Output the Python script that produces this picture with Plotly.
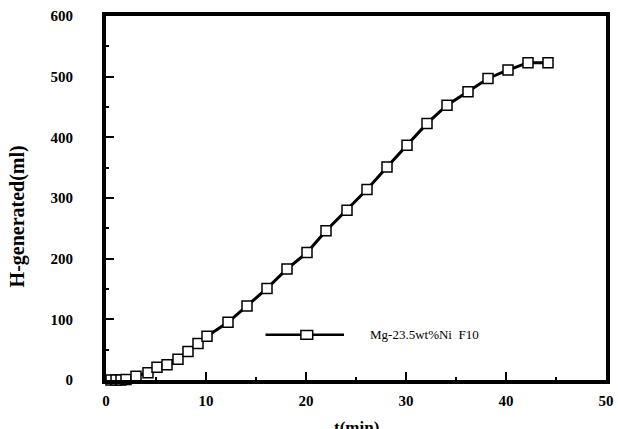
import plotly.graph_objects as go

t_min = [0.5, 1.0, 1.5, 2.0, 3.0, 4.2, 5.1, 6.1, 7.2, 8.2, 9.2, 10.1, 12.2, 14.1, 16.1,
         18.1, 20.1, 22.0, 24.1, 26.1, 28.1, 30.1, 32.1, 34.1, 36.2, 38.2, 40.2, 42.2, 44.2]
h_ml = [0, 0, 0, 1, 6, 12, 21, 25, 34, 47, 60, 72, 95, 122, 151,
        183, 210, 246, 280, 314, 351, 387, 423, 453, 475, 497, 511, 523, 523]
series_name = "Mg-23.5wt%Ni  F10"
x_ticks = [0, 10, 20, 30, 40, 50]
y_ticks = [0, 100, 200, 300, 400, 500, 600]

FONT = "Times New Roman, Liberation Serif, serif"

fig = go.Figure()
fig.add_trace(go.Scatter(
    x=t_min, y=h_ml, mode="lines+markers", name=series_name,
    line=dict(color="black", width=3),
    marker=dict(symbol="square", size=10, color="white",
                line=dict(color="black", width=1.5)),
    cliponaxis=False, showlegend=False,
))

# manual legend (decoration, paper coordinates)
fig.add_shape(type="line", xref="paper", yref="paper", x0=0.319, x1=0.476, y0=0.124, y1=0.124,
              line=dict(color="black", width=2.5))
fig.add_shape(type="rect", xref="paper", yref="paper", x0=0.3898, x1=0.4134, y0=0.112, y1=0.136,
              line=dict(color="black", width=1.5), fillcolor="white")
fig.add_annotation(text=series_name.replace("  ", "&nbsp; "), xref="paper", yref="paper", x=0.524, y=0.124,
                   xanchor="left", yanchor="middle", showarrow=False,
                   font=dict(family=FONT, size=13, color="black"))

# axis titles
fig.add_annotation(text="<b>t(min)</b>", xref="paper", yref="paper", x=0.5, y=-0.1,
                   xanchor="center", yanchor="top", showarrow=False,
                   font=dict(family=FONT, size=17, color="black"))
fig.add_annotation(text="<b>H-generated(ml)</b>", xref="paper", yref="paper", x=-0.177, y=0.448,
                   xanchor="center", yanchor="middle", showarrow=False, textangle=-90,
                   font=dict(family=FONT, size=20, color="black"))

fig.update_xaxes(range=[0, 50], tickvals=x_ticks, ticks="inside", ticklen=8, tickwidth=1.5,
                 tickcolor="black", showline=True, linecolor="black", linewidth=4, mirror=True,
                 showgrid=False, zeroline=False, ticklabelstandoff=4,
                 minor=dict(dtick=5, ticks="inside", ticklen=3, tickwidth=1.5, tickcolor="black", showgrid=False),
                 tickfont=dict(family=FONT, size=15, color="black", weight="bold"))
fig.update_yaxes(range=[0, 600], tickvals=y_ticks, ticks="inside", ticklen=8, tickwidth=1.5,
                 tickcolor="black", showline=True, linecolor="black", linewidth=4, mirror=True,
                 showgrid=False, zeroline=False, ticklabelstandoff=26,
                 minor=dict(dtick=50, ticks="inside", ticklen=3, tickwidth=1.5, tickcolor="black", showgrid=False),
                 tickfont=dict(family=FONT, size=15, color="black", weight="bold"))

fig.update_layout(width=618, height=429, margin=dict(l=106, r=4, t=16, b=49),
                  paper_bgcolor="white", plot_bgcolor="white", showlegend=False)

fig.write_html("out.html")
